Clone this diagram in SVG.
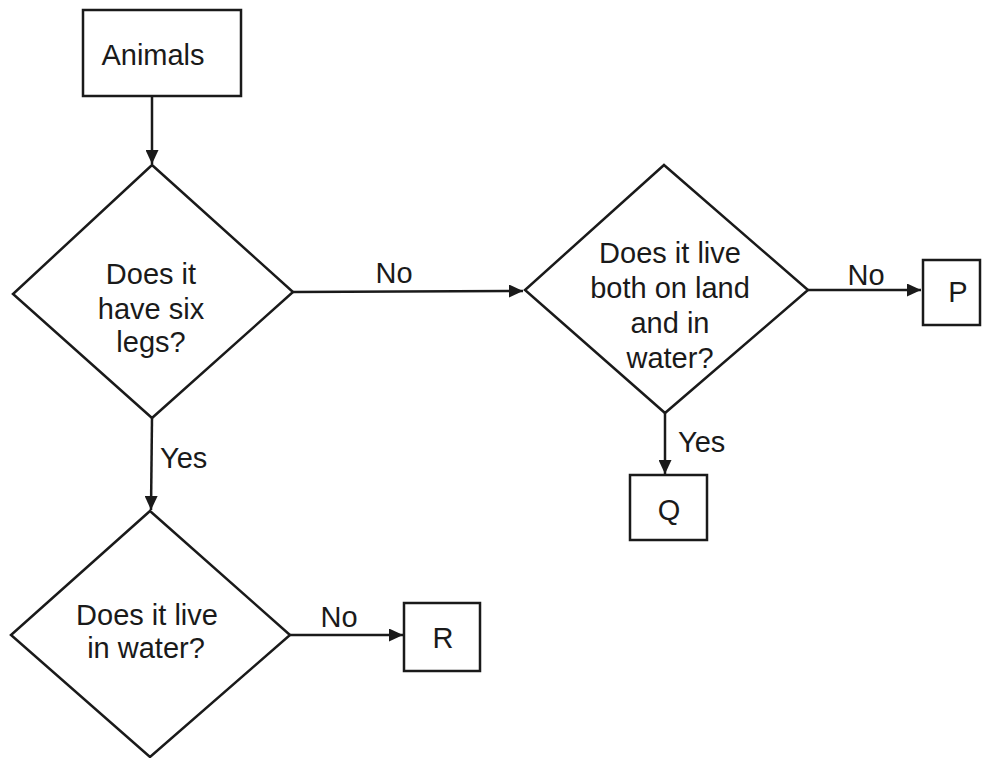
<svg xmlns="http://www.w3.org/2000/svg" width="991" height="758" viewBox="0 0 991 758">
<style>
  .shape { fill: #ffffff; stroke: #1a1a1a; stroke-width: 2.5; }
  .conn { fill: none; stroke: #1a1a1a; stroke-width: 2.5; }
  text { font-family: "Liberation Sans", Arial, sans-serif; font-size: 29px; fill: #1a1a1a; }
  .c { text-anchor: middle; }
</style>
<defs>
  <marker id="arr" markerUnits="userSpaceOnUse" markerWidth="15" markerHeight="13" refX="14" refY="6.5" orient="auto">
    <path d="M0,0 L14,6.5 L0,13 z" fill="#1a1a1a"/>
  </marker>
</defs>
<rect width="991" height="758" fill="#ffffff"/>
<g id="connectors">
  <line class="conn" x1="152" y1="96" x2="152" y2="164" marker-end="url(#arr)"/>
  <line class="conn" x1="293" y1="292" x2="523" y2="291" marker-end="url(#arr)"/>
  <line class="conn" x1="808" y1="290" x2="921" y2="290" marker-end="url(#arr)"/>
  <line class="conn" x1="665" y1="413" x2="665" y2="474" marker-end="url(#arr)"/>
  <line class="conn" x1="152" y1="418" x2="151" y2="510" marker-end="url(#arr)"/>
  <line class="conn" x1="290" y1="635" x2="403" y2="635" marker-end="url(#arr)"/>
  <text class="c" x="394" y="283">No</text>
  <text class="c" x="866" y="285">No</text>
  <text class="c" x="339" y="627">No</text>
  <text x="160" y="468">Yes</text>
  <text x="678" y="452">Yes</text>
</g>
<g id="animals">
  <rect class="shape" x="83" y="10" width="158" height="86"/>
  <text class="c" x="153" y="65">Animals</text>
</g>
<g id="six-legs">
  <polygon class="shape" points="152,165 293,292 152,418 13,294"/>
  <text class="c" x="151" y="284">Does it</text>
  <text class="c" x="151" y="319">have six</text>
  <text class="c" x="151" y="352">legs?</text>
</g>
<g id="land-water">
  <polygon class="shape" points="664,165 808,290 665,413 525,290"/>
  <text class="c" x="670" y="263">Does it live</text>
  <text class="c" x="670" y="298">both on land</text>
  <text class="c" x="670" y="333">and in</text>
  <text class="c" x="670" y="368">water?</text>
</g>
<g id="in-water">
  <polygon class="shape" points="150,511 290,635 150,757 11,635"/>
  <text class="c" x="147" y="625">Does it live</text>
  <text class="c" x="146" y="658">in water?</text>
</g>
<g id="P">
  <rect class="shape" x="923" y="260" width="57" height="65"/>
  <text class="c" x="958" y="302">P</text>
</g>
<g id="Q">
  <rect class="shape" x="630" y="475" width="77" height="65"/>
  <text class="c" x="669" y="520">Q</text>
</g>
<g id="R">
  <rect class="shape" x="404" y="603" width="76" height="68"/>
  <text class="c" x="443" y="648">R</text>
</g>
</svg>
